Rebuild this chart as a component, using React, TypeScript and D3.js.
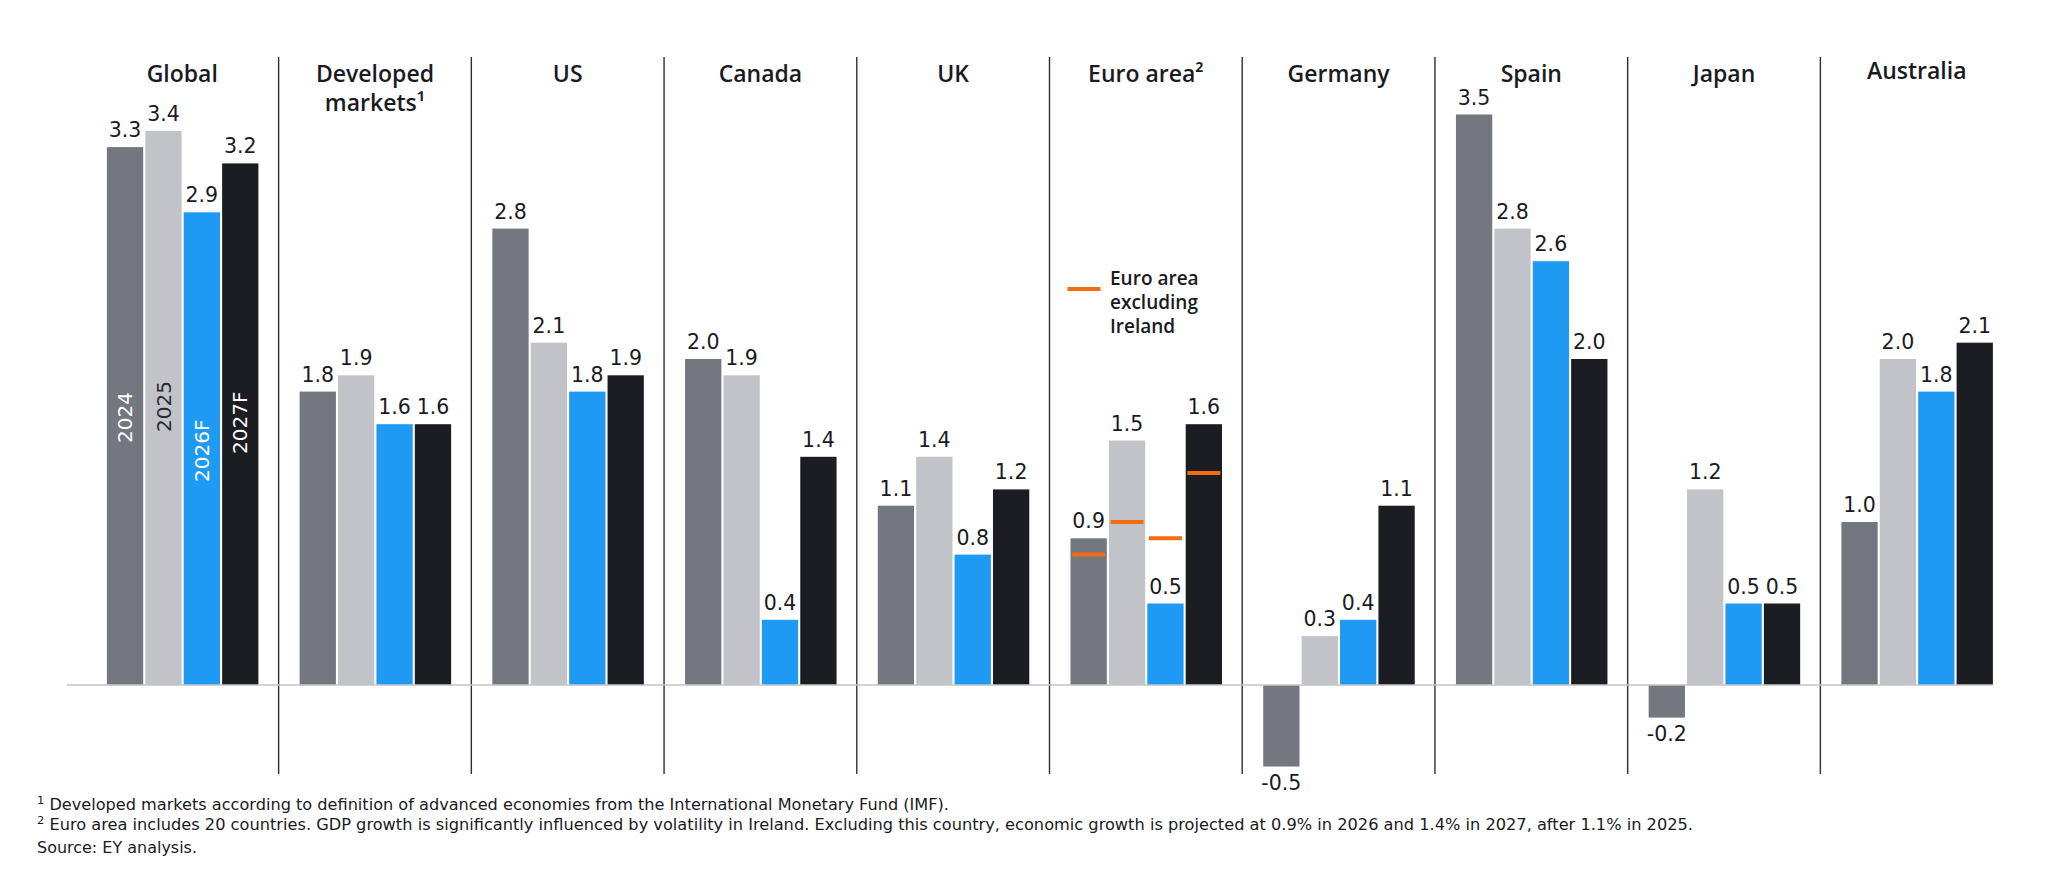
import React from "react";
import * as d3 from "d3";

// GDP growth, % year on year
const categories = ["Global", "Developed markets¹", "US", "Canada", "UK", "Euro area²", "Germany", "Spain", "Japan", "Australia"];
const seriesNames = ["2024", "2025", "2026F", "2027F"];
const values2024 = [3.3, 1.8, 2.8, 2.0, 1.1, 0.9, -0.5, 3.5, -0.2, 1.0];
const values2025 = [3.4, 1.9, 2.1, 1.9, 1.4, 1.5, 0.3, 2.8, 1.2, 2.0];
const values2026 = [2.9, 1.6, 1.8, 0.4, 0.8, 0.5, 0.4, 2.6, 0.5, 1.8];
const values2027 = [3.2, 1.6, 1.9, 1.4, 1.2, 1.6, 1.1, 2.0, 0.5, 2.1];
// Euro area excluding Ireland, same four years
const euroExIreland = [0.8, 1.0, 0.9, 1.3];

const footnotes = [
  { mark: "1", text: " Developed markets according to definition of advanced economies from the International Monetary Fund (IMF)." },
  { mark: "2", text: " Euro area includes 20 countries. GDP growth is significantly influenced by volatility in Ireland. Excluding this country, economic growth is projected at 0.9% in 2026 and 1.4% in 2027, after 1.1% in 2025." },
  { mark: "", text: "Source: EY analysis." },
];

const seriesValues = [values2024, values2025, values2026, values2027];
const colors = ["#747680", "#c1c3c9", "#1e9af5", "#1b1d23"];
const yearLabelColors = ["#ffffff", "#2a2b33", "#ffffff", "#ffffff"];

const W = 2048;
const H = 879;
const numFont = "'DejaVu Sans', Verdana, sans-serif";
const titleFont = "'Open Sans', 'Noto Sans', sans-serif";

const fmt = (v: number) => d3.format(".1f")(v).replace("−", "-");

export default function App() {
  const x = d3.scaleBand<string>().domain(categories).range([85.9, 2013.1]).paddingInner(0).paddingOuter(0);
  const inner = d3.scaleBand<string>().domain(seriesNames).range([21, 172.5]).paddingInner(0.055).paddingOuter(0);
  const y = d3.scaleLinear().domain([0, 3.5]).range([685, 114.5]);

  const panelW = x.bandwidth();
  const bw = inner.bandwidth();

  // start positions (bottom end) of the rotated year labels in the Global panel
  const yearLabelStart = [443, 432, 482, 454];
  const noteWidths = [912, 1656, 160];
  const noteY = [810, 830, 853];

  const euroIdx = categories.indexOf("Euro area²");
  const euroLeft = x(categories[euroIdx])!;

  return (
    <svg width={W} height={H} style={{ position: "absolute", left: 0, top: 0, background: "#fff" }}>
      {/* panel dividers */}
      {categories.slice(1).map((c) => (
        <line key={"div" + c} x1={x(c)!} x2={x(c)!} y1={57} y2={774} stroke="#2e2e33" strokeWidth={1.4} />
      ))}

      {/* bars */}
      {categories.map((c, ci) =>
        seriesNames.map((s, si) => {
          const v = seriesValues[si][ci];
          const bx = x(c)! + inner(s)!;
          const top = Math.min(y(v), y(0));
          const h = Math.abs(y(v) - y(0));
          return <rect key={c + s} x={bx} y={top} width={bw} height={h} fill={colors[si]} />;
        })
      )}

      {/* zero line */}
      <line x1={67} x2={1993} y1={y(0)} y2={y(0)} stroke="#c4c4c8" strokeWidth={1.5} />

      {/* euro area excluding Ireland markers */}
      {euroExIreland.map((v, si) => {
        const cx = euroLeft + inner(seriesNames[si])! + bw / 2;
        return <line key={"ex" + si} x1={cx - 16.5} x2={cx + 16.5} y1={y(v)} y2={y(v)} stroke="#f26d12" strokeWidth={4} />;
      })}

      {/* value labels */}
      {categories.map((c, ci) =>
        seriesNames.map((s, si) => {
          const v = seriesValues[si][ci];
          const cx = x(c)! + inner(s)! + bw / 2;
          const ty = v >= 0 ? y(v) - 10 : y(v) + 23;
          return (
            <text key={"lbl" + c + s} x={cx} y={ty} textAnchor="middle" fontFamily={numFont} fontSize={20.5} fill="#1a1a1f">
              {fmt(v)}
            </text>
          );
        })
      )}

      {/* year labels inside the Global bars */}
      {seriesNames.map((s, si) => {
        const cx = x(categories[0])! + inner(s)! + bw / 2;
        const sy = yearLabelStart[si];
        return (
          <text
            key={"yr" + s}
            transform={`translate(${cx},${sy}) rotate(-90)`}
            x={0}
            y={0}
            dy="0.36em"
            fontFamily={numFont}
            fontSize={20}
            fill={yearLabelColors[si]}
          >
            {s}
          </text>
        );
      })}

      {/* panel titles */}
      {categories.map((c) => {
        const cx = x(c)! + panelW / 2;
        const lines = c === "Developed markets¹" ? ["Developed", "markets¹"] : [c];
        return (
          <text key={"t" + c} x={cx} y={c === "Australia" ? 79 : 82} textAnchor="middle" fontFamily={titleFont} fontWeight={600} fontSize={23} fill="#1a1a1f">
            {lines.map((l, i) => (
              <tspan key={l} x={cx} dy={i === 0 ? 0 : 29}>
                {l}
              </tspan>
            ))}
          </text>
        );
      })}

      {/* legend for the euro area markers */}
      <line x1={euroLeft + 18} x2={euroLeft + 51} y1={289} y2={289} stroke="#f26d12" strokeWidth={4} />
      <text x={euroLeft + 60.5} y={285} fontFamily={titleFont} fontWeight={600} fontSize={19} fill="#1a1a1f">
        {["Euro area", "excluding", "Ireland"].map((l, i) => (
          <tspan key={l} x={euroLeft + 60.5} dy={i === 0 ? 0 : 24.2}>
            {l}
          </tspan>
        ))}
      </text>

      {/* footnotes */}
      {footnotes.map((f, i) => (
        <text
          key={"fn" + i}
          x={37}
          y={noteY[i]}
          fontFamily={numFont}
          fontSize={15.5}
          fill="#1a1a1f"
          textLength={noteWidths[i]}
          lengthAdjust="spacingAndGlyphs"
        >
          {f.mark && (
            <tspan fontSize={11} dy={-6}>
              {f.mark}
            </tspan>
          )}
          <tspan dy={f.mark ? 6 : 0}>{f.text}</tspan>
        </text>
      ))}
    </svg>
  );
}
